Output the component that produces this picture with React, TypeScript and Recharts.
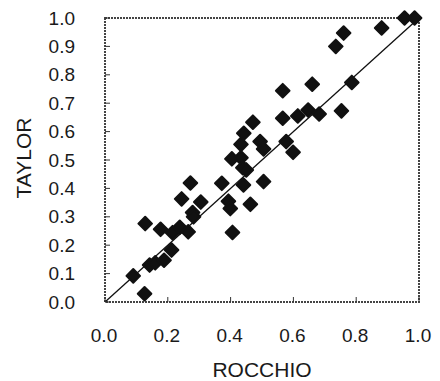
import { ScatterChart, Scatter, XAxis, YAxis, ReferenceLine, ReferenceArea } from 'recharts';

// ROCCHIO (x) vs TAYLOR (y)
const rocchio = [
  0.09, 0.126, 0.128, 0.142, 0.16, 0.177, 0.188, 0.212, 0.215, 0.238, 0.244, 0.265, 0.272,
  0.279, 0.282, 0.305, 0.372, 0.393, 0.399, 0.406, 0.404, 0.433, 0.433, 0.442, 0.439, 0.45,
  0.441, 0.463, 0.471, 0.494, 0.505, 0.505, 0.566, 0.566, 0.577, 0.599, 0.614, 0.647, 0.66,
  0.682, 0.735, 0.76, 0.753, 0.786, 0.881, 0.954, 0.986,
];
const taylor = [
  0.092, 0.029, 0.276, 0.13, 0.138, 0.256, 0.147, 0.183, 0.244, 0.263, 0.363, 0.247, 0.419,
  0.315, 0.3, 0.352, 0.418, 0.355, 0.329, 0.245, 0.504, 0.508, 0.555, 0.594, 0.473, 0.465,
  0.412, 0.344, 0.633, 0.565, 0.539, 0.424, 0.744, 0.647, 0.565, 0.527, 0.655, 0.676, 0.767,
  0.662, 0.9, 0.947, 0.673, 0.773, 0.965, 1.0, 1.0,
];
const xTicks = [0, 0.2, 0.4, 0.6, 0.8, 1.0];
const yTicks = [0, 0.1, 0.2, 0.3, 0.4, 0.5, 0.6, 0.7, 0.8, 0.9, 1.0];

const points = rocchio.map((x, i) => ({ x, y: taylor[i] }));

const FONT = '"Liberation Sans", Arial, sans-serif';
const TEXT = '#1a1a1a';

function YTick({ x, y, payload }: any) {
  return (
    <g>
      <line x1={x} y1={y} x2={x + 5} y2={y} stroke="#333" strokeWidth={1} />
      <text x={x - 30} y={y} dy="0.35em" textAnchor="end" fontSize={19} fontFamily={FONT} fill={TEXT}>
        {payload.value.toFixed(1)}
      </text>
    </g>
  );
}

function XTick({ x, y, payload }: any) {
  return (
    <g>
      <line x1={x} y1={y} x2={x} y2={y - 5} stroke="#333" strokeWidth={1} />
      <text x={x - 1} y={y + 33} dy="0.35em" textAnchor="middle" fontSize={19} fontFamily={FONT} fill={TEXT}>
        {payload.value.toFixed(1)}
      </text>
    </g>
  );
}

function Diamond({ cx, cy }: any) {
  const r = 6.8;
  return (
    <path
      d={`M${cx},${cy - r}L${cx + r},${cy}L${cx},${cy + r}L${cx - r},${cy}Z`}
      fill="#111"
      stroke="#111"
      strokeWidth={2}
      strokeLinejoin="round"
    />
  );
}

const xLabel = () => (
  <text x={262} y={370} dy="0.35em" textAnchor="middle" fontSize={21} fontFamily={FONT} fill={TEXT}>
    ROCCHIO
  </text>
);

const yLabel = () => (
  <text
    x={24}
    y={158}
    dy="0.35em"
    textAnchor="middle"
    transform="rotate(-90 24 158)"
    fontSize={21}
    fontFamily={FONT}
    fill={TEXT}
  >
    TAYLOR
  </text>
);

export default function App() {
  return (
    <div style={{ position: 'absolute', left: 0, top: 0, width: 440, height: 381, background: '#fff' }}>
      <ScatterChart width={440} height={381} margin={{ top: 18, right: 21, bottom: 0, left: 0 }}>
        <XAxis
          type="number"
          dataKey="x"
          domain={[0, 1]}
          ticks={xTicks}
          height={79}
          axisLine={false}
          tickLine={false}
          tickSize={0}
          tickMargin={0}
          tick={<XTick />}
          label={xLabel}
        />
        <YAxis
          type="number"
          dataKey="y"
          domain={[0, 1]}
          ticks={yTicks}
          width={105}
          axisLine={false}
          tickLine={false}
          tickSize={0}
          tickMargin={0}
          tick={<YTick />}
          label={yLabel}
        />
        <ReferenceArea x1={0} x2={1} y1={0} y2={1} fill="none" stroke="#444" strokeWidth={2} strokeDasharray="2 1" />
        <ReferenceLine segment={[{ x: 0, y: 0 }, { x: 1, y: 1 }]} stroke="#111" strokeWidth={1.3} />
        <Scatter data={points} shape={<Diamond />} isAnimationActive={false} />
      </ScatterChart>
    </div>
  );
}
